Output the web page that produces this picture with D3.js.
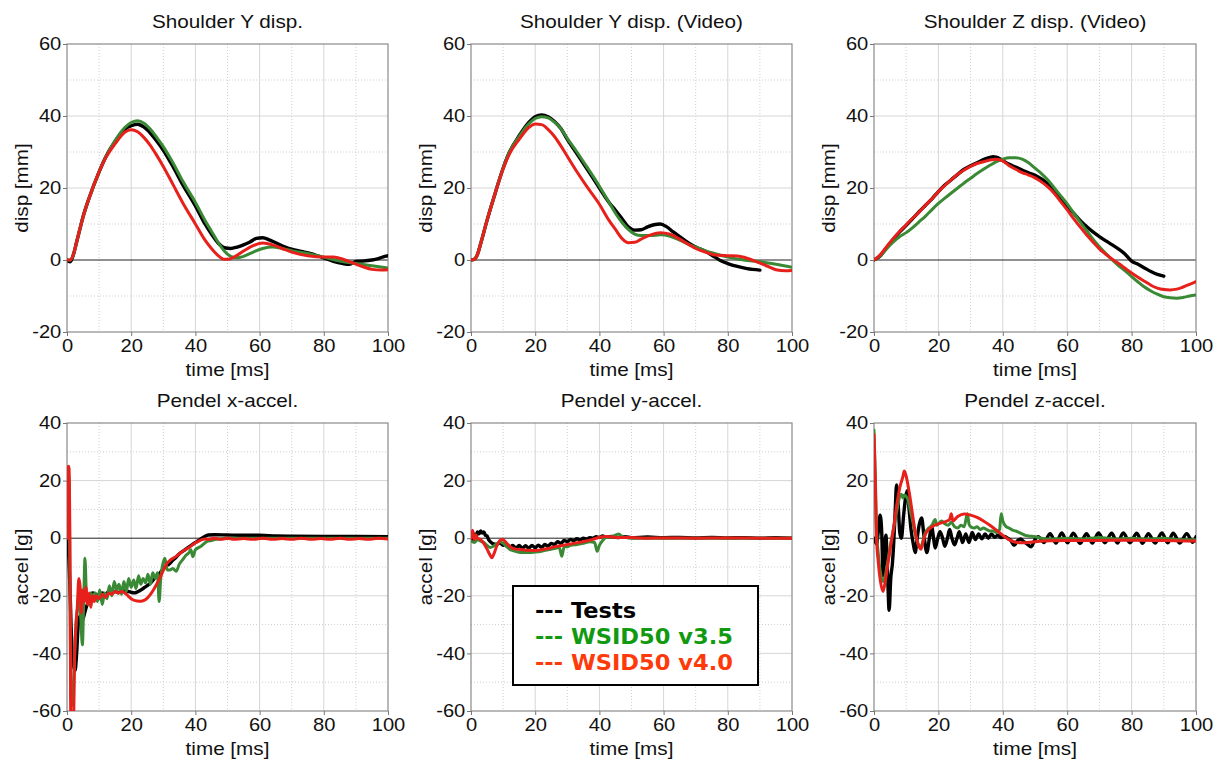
<!DOCTYPE html>
<html>
<head>
<meta charset="utf-8">
<script src="https://cdn.jsdelivr.net/npm/d3@7"></script>
<style>
  html, body { margin: 0; padding: 0; background: #fff; }
  svg { display: block; }
</style>
</head>
<body>
<svg id="chart" width="1224" height="765"></svg>
<script>
// ---------- tick labels ----------
const timeTicks = [0, 20, 40, 60, 80, 100];
const dispTicks = [-20, 0, 20, 40, 60];
const accelTicks = [-60, -40, -20, 0, 20, 40];

// ---------- series names / titles ----------
const seriesNames = ["Tests", "WSID50 v3.5", "WSID50 v4.0"];
const panelTitles = ["Shoulder Y disp.", "Shoulder Y disp. (Video)", "Shoulder Z disp. (Video)",
                     "Pendel x-accel.", "Pendel y-accel.", "Pendel z-accel."];

// ---------- Shoulder Y displacement [mm] vs time [ms] ----------
const shoulderY_tests = [[0,0],[1,-0.5],[2,1.5],[3,5],[4,8.5],[5,12],[7,17.5],[10,24.5],[12,28.5],[15,33],[18,36.3],[20,37.3],[22,37.7],[24,36.9],[26,35.2],[28,33],[30,30.5],[33,26],[36,21],[40,15],[43,10],[45,7.2],[47,4.8],[49,3.4],[51,3.2],[53,3.6],[55,4.2],[57,5],[59,6],[61,6.2],[63,5.6],[65,4.8],[68,3.6],[70,3],[73,2.4],[76,1.8],[80,0.6],[83,-0.4],[86,-1],[88,-1.2],[90,-0.4],[92,-0.3],[95,0],[97,0.4],[99,1],[100,1.2]];
const shoulderY_v35 = [[0,0],[1,0],[2,1.5],[3,5],[5,12],[7,17.5],[10,24.5],[12,28.5],[15,33.2],[18,36.8],[20,38.2],[22,38.7],[24,38],[26,36.3],[28,34],[30,31.5],[33,27],[36,22],[40,16],[43,11],[45,8],[47,5],[49,2.5],[51,1],[53,0.6],[55,1],[58,2.2],[61,3.2],[64,3.6],[67,3.2],[70,2.6],[75,1.8],[80,0.8],[85,-0.3],[90,-1],[95,-1.6],[100,-2.2]];
const shoulderY_v40 = [[0,0],[1,0],[2,1.5],[3,5],[5,12],[7,17.5],[10,24.5],[12,28.3],[15,32.3],[18,35.5],[20,36.2],[22,35.6],[24,34],[26,31.8],[28,29],[30,26],[33,21],[36,16],[40,10],[43,5.5],[45,3.2],[47,1.3],[49,0.2],[50,0.2],[52,0.8],[55,2.5],[58,4],[61,4.7],[64,4.2],[67,3.2],[70,2.2],[75,1.2],[80,0.8],[83,0.8],[86,0.2],[89,-0.8],[92,-1.8],[95,-2.6],[98,-2.8],[100,-2.7]];

// ---------- Shoulder Y displacement from video [mm] ----------
const shoulderYVid_tests = [[0,0],[1,0.2],[2,1.5],[3,4.5],[5,11],[7,17],[10,25.5],[12,30],[15,34.5],[18,38.2],[20,39.8],[22,40.3],[24,39.8],[26,38.5],[28,36.5],[30,33.5],[33,29.5],[36,25.5],[40,20],[43,16],[45,13.8],[47,11.5],[49,9.2],[51,8.3],[53,8.4],[55,9.2],[57,9.8],[59,10],[61,9.2],[63,7.8],[65,6.5],[68,4.6],[70,3.6],[73,2.4],[76,0.8],[78,-0.3],[80,-1],[83,-1.8],[86,-2.4],[90,-2.8]];
const shoulderYVid_v35 = [[0,0],[1,0.2],[2,1.5],[3,4.5],[5,11],[7,17],[10,25.5],[12,30],[15,34.3],[18,37.8],[20,39.3],[22,39.8],[24,39.5],[26,38.3],[28,36.5],[30,33.8],[33,30],[36,26],[40,20.5],[43,16],[45,13],[47,10.5],[49,8.5],[51,7.2],[53,6.8],[56,6.8],[59,7],[62,6.6],[65,5.5],[68,4.3],[70,3.6],[75,2],[80,0.8],[85,0],[90,-0.5],[95,-1.2],[100,-2]];
const shoulderYVid_v40 = [[0,0],[1,0.2],[2,1.5],[3,4.5],[5,11],[7,17],[10,25.3],[12,29.5],[15,33.5],[18,36.8],[20,37.8],[22,37.6],[24,36.3],[26,34.3],[28,31.7],[30,28.8],[33,24.5],[36,20.5],[40,15.5],[43,11],[45,8.5],[47,6],[49,4.8],[51,4.9],[53,5.8],[56,7],[59,7.6],[62,7.2],[65,5.8],[68,4.2],[70,3.2],[73,2.2],[76,1.4],[80,1.2],[83,1.1],[86,0.5],[89,-0.5],[92,-1.6],[95,-2.7],[98,-3],[100,-2.9]];

// ---------- Shoulder Z displacement from video [mm] ----------
const shoulderZVid_tests = [[0,0],[2,1.2],[4,3.5],[6,5.8],[8,7.8],[10,9.6],[12,11.5],[14,13.4],[16,15.2],[18,17],[20,19],[22,20.8],[24,22.3],[26,23.8],[28,25.2],[30,26.2],[32,27],[34,27.9],[36,28.5],[37,28.7],[38,28.6],[40,27.6],[42,26.6],[44,25.8],[46,25],[48,24.2],[50,23.5],[52,22.5],[54,21.2],[56,19.5],[58,17.3],[60,15],[62,13],[64,11],[66,9.3],[68,7.8],[70,6.5],[72,5.3],[74,4.2],[76,3],[78,1.6],[80,-0.3],[82,-1.2],[84,-2.2],[86,-3.2],[88,-4],[90,-4.5]];
const shoulderZVid_v35 = [[0,0],[2,1.2],[4,3.2],[6,5],[8,6.5],[10,7.6],[12,9],[14,10.6],[16,12.2],[18,14],[20,15.7],[22,17.2],[24,18.6],[26,20],[28,21.4],[30,22.7],[32,24],[34,25.2],[36,26.3],[38,27.3],[40,28],[42,28.4],[44,28.4],[46,28],[48,27],[50,25.5],[52,24],[54,22.2],[56,20],[58,17.8],[60,15.6],[62,13.1],[64,10.6],[66,8.2],[68,5.8],[70,3.7],[72,1.8],[74,0],[76,-1.6],[78,-3],[80,-4.6],[82,-6.1],[84,-7.5],[86,-8.6],[88,-9.5],[90,-10.2],[92,-10.5],[94,-10.6],[96,-10.4],[98,-10],[100,-9.7]];
const shoulderZVid_v40 = [[0,0],[2,1.5],[4,3.8],[6,6],[8,8],[10,9.8],[12,11.6],[14,13.3],[16,15.2],[18,17],[20,19],[22,20.7],[24,22.3],[26,23.8],[28,25],[30,26],[32,26.8],[34,27.3],[36,27.8],[38,28],[40,27.5],[42,26.2],[44,25.2],[46,24.3],[48,23.6],[50,22.8],[52,21.7],[54,20.3],[56,18.5],[58,16.2],[60,13.9],[62,11.5],[64,9.2],[66,7],[68,5],[70,3.1],[72,1.6],[74,0.2],[76,-1],[78,-2.3],[80,-3.6],[82,-4.8],[84,-5.9],[86,-7],[88,-7.8],[90,-8.2],[92,-8.3],[94,-8.1],[96,-7.5],[98,-6.8],[100,-6]];

// ---------- Pendulum x acceleration [g] ----------
const pendelX_tests = [[0,0],[0.5,-5],[1,-20],[1.5,-38],[2,-44],[2.5,-46],[3,-40],[3.5,-30],[4,-27],[4.5,-29],[5,-28],[5.5,-26],[6,-24],[6.5,-22.5],[7,-21],[7.5,-19.5],[8,-19],[9,-19.5],[10,-20],[11,-19],[12,-19.5],[13,-18.5],[14,-19],[15,-18.5],[16,-19],[17,-18],[18,-18.5],[19,-18.5],[20,-18.8],[21,-19],[22,-18.6],[23,-18],[24,-17.2],[25,-16.5],[26,-15.6],[27,-14.3],[28,-13.2],[29,-12],[30,-10.6],[31,-9.6],[32,-8.8],[33,-7.6],[34,-6.6],[35,-5.4],[36,-4.6],[37,-3.8],[38,-3],[39,-2.2],[40,-1.5],[41,-0.8],[42,0],[43,0.7],[44,1.1],[46,1.2],[50,1.1],[55,1],[60,1],[65,0.8],[70,0.7],[80,0.6],[90,0.6],[100,0.5]];
const pendelX_v35 = [[0,0],[0.3,20],[0.6,22],[0.9,-10],[1.2,-55],[1.8,-58],[2.3,-42],[2.8,-30],[3.3,-24],[3.8,-18],[4.3,-28],[4.8,-37],[5.2,-22],[5.6,-7],[6.1,-21],[6.6,-23],[7.2,-19],[8,-20],[8.8,-19],[9.5,-22],[10.2,-18],[11,-23],[11.7,-19],[12.5,-21],[13.2,-16.5],[14,-20],[14.7,-15],[15.5,-18],[16.2,-16],[17,-19.5],[17.7,-15],[18.5,-18.5],[19.2,-14],[20,-17],[20.8,-14.5],[21.5,-17.5],[22.3,-13],[23,-16],[23.7,-14],[24.5,-15.5],[25.2,-12.5],[26,-16],[26.7,-12],[27.5,-14],[28.2,-12],[28.7,-22],[29.2,-14],[30.5,-7],[31.2,-11],[32,-11],[33,-10.5],[34,-11.5],[35,-9],[36,-7.5],[37,-6],[38,-5],[38.6,-4],[39.2,-6.4],[40,-4],[41.5,-3],[43.5,-1.2],[45,-0.8],[46.5,-0.4],[48,-0.2],[50,0],[55,0],[60,0],[70,0],[80,0],[90,0],[100,0]];
const pendelX_v40 = [[0,0],[0.2,24.5],[0.6,25],[0.9,0],[1.2,-64],[2.0,-64],[2.4,-40],[2.8,-30],[3.2,-24],[3.7,-14],[4.1,-17],[4.5,-26],[4.9,-18],[5.4,-22],[5.9,-17],[6.4,-23],[6.9,-19],[7.4,-24],[7.9,-20],[8.5,-22],[9,-20],[10,-21],[11,-19.5],[12,-20.5],[13,-19],[14,-19.5],[15,-18.5],[16,-19],[17,-18.5],[18,-19],[19,-20],[20,-21],[21,-21.6],[22,-21.8],[23,-21.9],[24,-21.6],[25,-20.8],[26,-19.5],[27,-17.8],[28,-15.8],[29,-13.6],[30,-11.2],[31,-9],[32,-7.8],[33,-7],[34,-6.3],[35,-5.4],[36,-4.6],[37,-3.9],[38,-3.2],[39,-2.4],[40,-1.6],[41,-1],[42,-0.5],[43,-0.3],[44,-0.4],[46,0],[48,-0.4],[50,0],[52,-0.4],[55,-0.1],[58,-0.4],[61,0],[64,-0.4],[67,-0.1],[70,-0.4],[73,0],[76,-0.4],[79,-0.1],[82,-0.4],[85,0],[88,-0.4],[91,-0.1],[94,-0.4],[97,0],[100,-0.3]];

// ---------- Pendulum y acceleration [g] ----------
const pendelY_tests = [[0,0.5],[0.5,-0.5],[1,1.5],[1.5,0.5],[2,2.2],[2.5,1.5],[3,2.5],[3.5,1.8],[4,2.2],[4.5,1],[5,0.8],[5.5,-0.5],[6,-1.2],[7,-2],[8,-2.2],[9,-1.5],[10,-2.5],[11,-2],[12,-3.2],[13,-2.5],[14,-3.5],[15,-2.5],[16,-3.5],[17,-2.6],[18,-3.5],[19,-2.5],[20,-3.3],[21,-2.4],[22,-3.2],[23,-2.2],[24,-2.8],[25,-1.8],[26,-2.2],[27,-1.2],[28,-1.8],[29,-0.8],[30,-1.2],[31,-0.4],[32,-0.8],[33,-0.2],[34,-0.6],[35,0],[36,-0.3],[37,0.2],[38,0],[39,0.5],[40,0.3],[41,0.8],[42,0.4],[44,0.6],[46,0.2],[48,0.5],[50,0.2],[55,0.4],[60,0.2],[65,0.3],[70,0.1],[75,0.3],[80,0.1],[85,0.2],[90,0],[95,0.2],[100,0]];
const pendelY_v35 = [[0,-1],[1,-1.5],[2,-0.5],[3,-1],[4,-1.5],[5,-2.5],[6,-3.2],[7,-2.8],[8,-2],[9,-1.2],[10,-1.8],[11,-2.8],[12,-3.8],[13,-4.3],[14,-4.6],[16,-5],[18,-5],[20,-4.8],[22,-4.5],[24,-4],[26,-3.6],[27.5,-3.2],[28.3,-6.3],[29,-3],[30,-3],[31,-2.5],[33,-2.2],[35,-1.8],[37,-1.2],[38.5,-1.5],[39.3,-4.5],[40,-2.5],[41,-0.8],[42,0.2],[44,0.5],[46,1.5],[47,0.6],[48,0.3],[50,0],[60,0],[70,0],[80,0],[90,0],[100,0]];
const pendelY_v40 = [[0,0],[0.5,2.8],[1,-0.5],[1.5,1.2],[2,0],[3,-0.5],[4,-1.8],[5,-3.8],[6,-6],[6.5,-6.8],[7,-5.8],[8,-2.8],[9,-0.8],[9.8,-0.4],[10.5,-1],[11.5,-2.2],[12.5,-3.2],[14,-3.8],[16,-4],[18,-4.2],[20,-4.3],[22,-4],[24,-3.6],[26,-3],[28,-2.6],[30,-2.2],[32,-1.8],[34,-1.4],[36,-1],[38,-0.4],[40,0.3],[42,0.6],[44,0.4],[46,0.2],[50,0.2],[55,0],[60,0.1],[70,0],[80,0.1],[90,0],[100,0]];

// ---------- Pendulum z acceleration [g] ----------
const pendelZ_tests = [[0,0],[0.8,-2],[1.3,2],[1.9,8],[2.4,2],[2.8,-13],[3.3,-3],[3.7,1],[4.2,-12],[4.7,-25],[5.2,-14],[5.7,-9],[6.2,0],[6.6,10],[7,18.5],[7.5,12],[8,2],[8.5,0],[9.2,8],[9.8,14],[10.3,16.5],[10.9,10],[11.5,3],[12.2,-2],[12.8,-5],[13.4,0],[14.1,5],[14.8,7],[15.5,1],[16.4,-5],[17.2,0],[17.9,4],[18.5,0],[19,-3.4],[19.8,0],[20.5,2.3],[21.3,0],[22,-2.8],[22.8,0],[23.5,3],[24.2,0],[25,-2.3],[25.8,0],[26.5,2.3],[27.5,-1.5],[28.5,1.5],[29.5,-1.5],[30.5,2],[31.5,-0.5],[32.5,1.5],[33.5,-0.2],[34.5,1.5],[35.5,0],[36.5,1.5],[37.5,0.3],[38.5,1],[39.5,0.2],[40.5,0.6],[41.5,0],[42.5,-0.8],[43.5,-2.5],[44.5,-1],[45.5,-0.3],[46.5,-1.2],[47.5,-2],[48.8,-3],[50,-0.5],[51,0.5],[52.8,-1.5],[54.7,1.6],[56.5,-1.7],[58.3,1.8],[60.1,-1.6],[61.9,1.7],[64,-1.8],[66,1.6],[67.8,-1.7],[69.7,1.8],[71.7,-1.6],[73.8,1.7],[75.6,-1.7],[77.4,1.8],[79.5,-1.6],[81.6,1.7],[83.4,-1.8],[85.2,1.6],[87.3,-1.7],[89.4,1.8],[91.2,-1.6],[92.9,1.7],[95,-1.7],[97.1,1.6],[99,-1.4],[100,0.5]];
const pendelZ_v35 = [[0,37.5],[0.4,22],[0.8,2],[1.3,-5],[2,-12],[2.8,-15],[3.5,-13],[4.3,-8],[5,-3],[6,3],[7,9],[8,14.5],[8.5,15.3],[9,14],[9.5,15],[10,14.5],[10.5,13.5],[11,11],[12,6],[13,0.5],[14,-2.5],[14.6,-3],[15.3,-0.5],[16,2],[17,3.5],[18,4.5],[19,6.5],[19.5,4.5],[20,5],[21,6],[22,5],[23,4.5],[24,5.5],[25,4],[26,3.5],[27,4.5],[28,4],[29,8.5],[29.5,5],[30,4],[31,3.5],[32,4],[33,3],[34,3.5],[35,3],[36,2.5],[37,2.5],[38,2],[39,3],[39.5,8.5],[40,6],[41,4],[42,3.5],[43,2.8],[44,2.5],[45,2],[46,1.5],[47,1],[48,0.8],[50,0.5],[52,0],[55,-0.3],[60,0],[65,-0.3],[70,0.2],[75,-0.3],[80,0],[85,-0.3],[90,0],[95,-0.5],[100,-0.5]];
const pendelZ_v40 = [[0,36],[0.4,20],[0.8,0],[1.3,-8],[2,-15],[2.8,-18.5],[3.5,-15],[4.3,-9],[5,-4],[6,3],[7,11],[8,17.5],[9,21.5],[9.4,23.3],[10,21.5],[11,15.5],[12,8],[13,1],[14,-3],[14.6,-3.8],[15.3,-1],[16,1.5],[17,3],[18,4],[20,5],[22,5.7],[23.5,6.5],[24,8.5],[24.5,6],[26,7.5],[28,8.4],[30,8],[32,7.2],[34,6],[36,4.5],[38,2.8],[40,1],[42,-0.6],[44,-1.4],[46,-1.6],[50,-1.2],[55,-0.9],[60,-0.8],[70,-0.8],[80,-0.7],[90,-0.8],[100,-1]];

// ---------- styling ----------
const lineColors = ["#000000", "#3a8a35", "#e8201c"];
const legendColors = ["#000000", "#119a11", "#ff3a0a"];
const FONT = "'Liberation Sans', Arial, Helvetica, sans-serif";
const STRETCH = 1.15; // the plotting font runs wider than Arial

const svg = d3.select("#chart");
const colX = [[67, 388], [471, 792], [874, 1196]];
const rowY = [{ top: 44, bottom: 332 }, { top: 423, bottom: 711 }];

const panels = [
  { col: 0, row: 0, yDomain: [-20, 60], yTicks: dispTicks, yLabel: "disp [mm]", series: [shoulderY_tests, shoulderY_v35, shoulderY_v40] },
  { col: 1, row: 0, yDomain: [-20, 60], yTicks: dispTicks, yLabel: "disp [mm]", series: [shoulderYVid_tests, shoulderYVid_v35, shoulderYVid_v40] },
  { col: 2, row: 0, yDomain: [-20, 60], yTicks: dispTicks, yLabel: "disp [mm]", series: [shoulderZVid_tests, shoulderZVid_v35, shoulderZVid_v40] },
  { col: 0, row: 1, yDomain: [-60, 40], yTicks: accelTicks, yLabel: "accel [g]", series: [pendelX_tests, pendelX_v35, pendelX_v40] },
  { col: 1, row: 1, yDomain: [-60, 40], yTicks: accelTicks, yLabel: "accel [g]", series: [pendelY_tests, pendelY_v35, pendelY_v40] },
  { col: 2, row: 1, yDomain: [-60, 40], yTicks: accelTicks, yLabel: "accel [g]", series: [pendelZ_tests, pendelZ_v35, pendelZ_v40] }
];

const defs = svg.append("defs");

panels.forEach((p, i) => {
  const [x0, x1] = colX[p.col];
  const { top, bottom } = rowY[p.row];
  const x = d3.scaleLinear().domain([0, 100]).range([x0, x1]);
  const y = d3.scaleLinear().domain(p.yDomain).range([bottom, top]);
  const g = svg.append("g").attr("class", "panel");

  // minor (dotted) grid every 10, major grid every 20
  const xMinor = d3.range(10, 100, 20);
  const yMinor = d3.range(p.yDomain[0] + 10, p.yDomain[1], 20);
  g.append("g").selectAll("line").data(xMinor).join("line")
    .attr("x1", d => x(d)).attr("x2", d => x(d)).attr("y1", top).attr("y2", bottom)
    .attr("stroke", "#cfcfcf").attr("stroke-dasharray", "1,2");
  g.append("g").selectAll("line").data(yMinor).join("line")
    .attr("y1", d => y(d)).attr("y2", d => y(d)).attr("x1", x0).attr("x2", x1)
    .attr("stroke", "#cfcfcf").attr("stroke-dasharray", "1,2");
  g.append("g").selectAll("line").data(timeTicks.slice(1, -1)).join("line")
    .attr("x1", d => x(d)).attr("x2", d => x(d)).attr("y1", top).attr("y2", bottom)
    .attr("stroke", "#d6d6d6");
  g.append("g").selectAll("line").data(p.yTicks.filter(v => v !== 0 && v > p.yDomain[0] && v < p.yDomain[1])).join("line")
    .attr("y1", d => y(d)).attr("y2", d => y(d)).attr("x1", x0).attr("x2", x1)
    .attr("stroke", "#d6d6d6");

  // zero line
  g.append("line").attr("x1", x0).attr("x2", x1).attr("y1", y(0)).attr("y2", y(0))
    .attr("stroke", "#222").attr("stroke-width", 1);

  // frame
  g.append("rect").attr("x", x0).attr("y", top).attr("width", x1 - x0).attr("height", bottom - top)
    .attr("fill", "none").attr("stroke", "#8a8a8a").attr("stroke-width", 1.2);

  // axes
  const yAxis = g.append("g").attr("transform", `translate(${x0},0)`)
    .call(d3.axisLeft(y).tickValues(p.yTicks).tickSize(4).tickPadding(1).tickFormat(d => String(d)));
  const xAxis = g.append("g").attr("transform", `translate(0,${bottom})`)
    .call(d3.axisBottom(x).tickValues(timeTicks).tickSize(4).tickPadding(4).tickFormat(d => String(d)));
  [yAxis, xAxis].forEach(ax => {
    ax.select(".domain").remove();
    ax.selectAll(".tick line").attr("stroke", "#777");
    ax.selectAll(".tick text")
      .attr("font-family", FONT).attr("font-size", 17.5).attr("fill", "#111")
      .attr("transform", `scale(${STRETCH},1)`);
  });

  // curves, clipped to the plot frame
  const clipId = "clip" + i;
  defs.append("clipPath").attr("id", clipId)
    .append("rect").attr("x", x0).attr("y", top).attr("width", x1 - x0).attr("height", bottom - top);
  const line = d3.line().x(d => x(d[0])).y(d => y(d[1])).curve(d3.curveMonotoneX);
  g.append("g").attr("clip-path", `url(#${clipId})`)
    .selectAll("path").data(p.series).join("path")
    .attr("d", d => line(d))
    .attr("fill", "none")
    .attr("stroke", (d, k) => lineColors[k])
    .attr("stroke-width", (d, k) => k === 0 ? 3.4 : 3)
    .attr("stroke-linejoin", "round").attr("stroke-linecap", "round");

  // title
  g.append("text")
    .attr("transform", `translate(${(x0 + x1) / 2},${top - 16.5}) scale(${STRETCH},1)`)
    .attr("text-anchor", "middle").attr("font-family", FONT).attr("font-size", 18).attr("fill", "#111")
    .text(panelTitles[i]);

  // axis labels
  g.append("text")
    .attr("transform", `translate(${(x0 + x1) / 2},${bottom + 44}) scale(${STRETCH},1)`)
    .attr("text-anchor", "middle").attr("font-family", FONT).attr("font-size", 18).attr("fill", "#111")
    .text("time [ms]");
  g.append("text")
    .attr("transform", `translate(${x0 - 39},${(top + bottom) / 2}) rotate(-90) scale(${STRETCH},1)`)
    .attr("text-anchor", "middle").attr("font-family", FONT).attr("font-size", 18).attr("fill", "#111")
    .text(p.yLabel);
});

// legend box inside the y-accel panel
const legend = svg.append("g").attr("class", "legend");
legend.append("rect").attr("x", 513).attr("y", 586).attr("width", 245).attr("height", 99)
  .attr("fill", "#fff").attr("stroke", "#000").attr("stroke-width", 2);
legend.selectAll("text").data(seriesNames).join("text")
  .attr("transform", (d, k) => `translate(535,${618 + k * 26}) scale(1.1,1)`)
  .attr("font-family", "'DejaVu Sans', Verdana, sans-serif").attr("font-weight", "bold")
  .attr("font-size", 20.5)
  .attr("fill", (d, k) => legendColors[k])
  .text(d => "--- " + d);
</script>
</body>
</html>
